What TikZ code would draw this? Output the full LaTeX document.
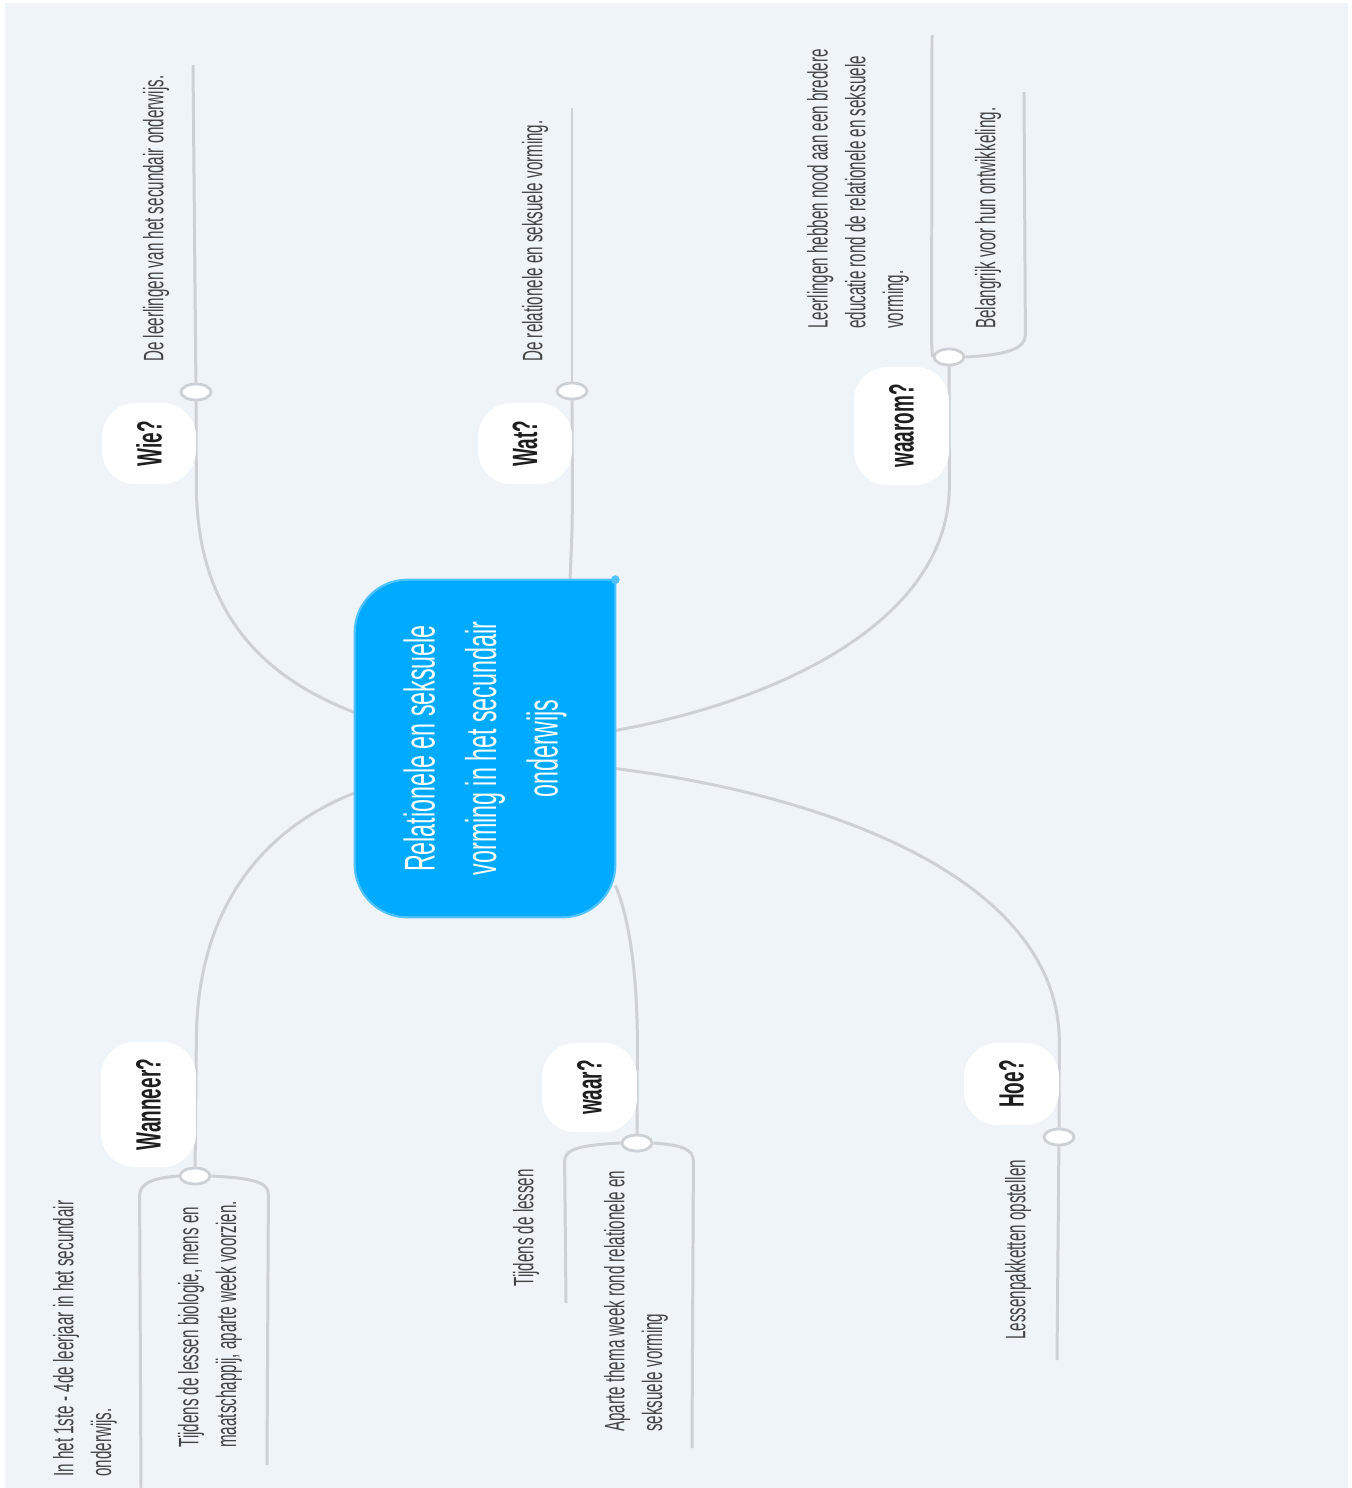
\documentclass[tikz,border=0pt]{standalone}
\usepackage{fontspec}
\usepackage{xcolor}
\usetikzlibrary{shapes.geometric, calc, backgrounds}
\newfontfamily\mapfont{Liberation Sans}[FakeStretch=0.54]
\definecolor{pagebg}{RGB}{239,244,248}
\definecolor{linkgray}{RGB}{205,209,213}
\definecolor{topicblue}{RGB}{0,170,255}
\definecolor{topicedge}{RGB}{80,195,255}
\definecolor{leafink}{RGB}{68,68,68}
\definecolor{labelink}{RGB}{30,30,30}
\newcommand{\leaffont}{\mapfont\fontsize{16}{21.5}\selectfont}
\newcommand{\branchfont}{\mapfont\bfseries\fontsize{20}{24}\selectfont}
\newcommand{\topicfont}{\mapfont\fontsize{24.5}{35}\selectfont}
\tikzset{
  topic/.style={
    rectangle, minimum width=5.2cm, minimum height=6.74cm, inner sep=0pt,
    text=white, font=\topicfont
  },
  branch/.style={
    rectangle, rounded corners=19pt, fill=white, inner sep=0pt,
    text=labelink, font=\branchfont
  },
  knob/.style={
    ellipse, minimum width=0.6cm, minimum height=0.32cm, inner sep=0pt,
    fill=white, draw=linkgray, line width=1.6pt
  },
  leaf/.style={
    rotate=90, anchor=west, align=left, inner sep=0pt,
    text=leafink, font=\leaffont
  },
  link/.style={draw=linkgray, line width=1.7pt}
}

\begin{document}
\begin{tikzpicture}[x=0.02cm, y=-0.02cm]
  \useasboundingbox (0,0) rectangle (1352,1488);

  % central topic
  \node[topic] (ctr) at (485,748.5)
    {\rotatebox{90}{\parbox{6cm}{\centering Relationele en seksuele\\vorming in het secundair\\onderwijs}}};

  % branches
  \node[branch, minimum width=1.88cm, minimum height=1.62cm] (wie)     at (149,443.5)  {\rotatebox{90}{Wie?}};
  \node[branch, minimum width=1.88cm, minimum height=1.62cm] (wat)     at (525,443.5)  {\rotatebox{90}{Wat?}};
  \node[branch, minimum width=1.9cm,  minimum height=2.36cm] (waarom)  at (901.5,426)  {\rotatebox{90}{waarom?}};
  \node[branch, minimum width=1.9cm,  minimum height=2.5cm]  (wanneer) at (148.5,1104.5) {\rotatebox{90}{Wanneer?}};
  \node[branch, minimum width=1.9cm,  minimum height=1.78cm] (waar)    at (589.5,1087.5) {\rotatebox{90}{waar?}};
  \node[branch, minimum width=1.9cm,  minimum height=1.64cm] (hoe)     at (1011.5,1084) {\rotatebox{90}{Hoe?}};

  % knobs
  \node[knob] (wieknob)     at (196,392)   {};
  \node[knob] (watknob)     at (572,391)   {};
  \node[knob] (waaromknob)  at (949,357)   {};
  \node[knob] (wanneerknob) at (195,1176)  {};
  \node[knob] (waarknob)    at (637,1143)  {};
  \node[knob] (hoeknob)     at (1059,1137) {};

  % leaves
  \node[leaf] (wieleaf)      at (156,362)  {De leerlingen van het secundair onderwijs.};
  \node[leaf] (watleaf)      at (535,362)  {De relationele en seksuele vorming.};
  \node[leaf] (waaromleafa)  at (858,329)  {Leerlingen hebben nood aan een bredere\\educatie rond de relationele en seksuele\\vorming.};
  \node[leaf] (waaromleafb)  at (988,329)  {Belangrijk voor hun ontwikkeling.};
  \node[leaf] (wanneerleafa) at (85,1477)  {In het 1ste - 4de leerjaar in het secundair\\onderwijs.};
  \node[leaf] (wanneerleafb) at (210,1448) {Tijdens de lessen biologie, mens en\\maatschappij, aparte week voorzien.};
  \node[leaf] (waarleafa)    at (526,1287) {Tijdens de lessen};
  \node[leaf] (waarleafb)    at (636,1432) {Aparte thema week rond relationele en\\seksuele vorming};
  \node[leaf] (hoeleaf)      at (1018,1340) {Lessenpakketten opstellen};

  % leaf line ends
  \coordinate (wieend)      at (193,65);
  \coordinate (watend)      at (572,108);
  \coordinate (waaromenda)  at (932,35);
  \coordinate (waaromendb)  at (1024,92);
  \coordinate (wanneerenda) at (141,1488);
  \coordinate (wanneerendb) at (267,1465);
  \coordinate (waarenda)    at (566,1303);
  \coordinate (waarendb)    at (692,1448);
  \coordinate (hoeend)      at (1057,1360);

  \begin{scope}[on background layer]
    \fill[white] (0,0) rectangle (1352,1488);
    \fill[pagebg] (5,3) rectangle (1348,1488);

    % topic to branches
    \draw[link] ($(ctr.west)+(0,-36)$) .. controls +(-83,-32) and +(0,136) .. (wie.south east) -- (wieknob);
    \draw[link] ($(ctr.north)+(85,0)$) .. controls +(2,-45) and +(0,45) .. (wat.south east) -- (watknob);
    \draw[link] ($(ctr.east)+(0,-18)$) .. controls +(165,-30) and +(0,135) .. (waarom.south east) -- (waaromknob);
    \draw[link] ($(ctr.east)+(0,20)$) .. controls +(215,27) and +(0,-163) .. (hoe.north east) -- (hoeknob);
    \draw[link] ($(ctr.south east)+(0,-32)$) .. controls +(15,35) and +(0,-63) .. (waar.north east) -- (waarknob);
    \draw[link] ($(ctr.west)+(0,44.5)$) .. controls +(-83,32) and +(0,-142) .. (wanneer.north east) -- (wanneerknob);

    % knobs to leaves
    \draw[link] (wieknob) -- (wieend);
    \draw[link] (watknob) -- (watend);
    \draw[link] (hoeknob) -- (hoeend);
    \draw[link] (waaromknob.west) to[out=95, in=-90] ++(-1,-17) -- (waaromenda);
    \draw[link] (waaromknob.east) .. controls +(40,-2) and +(0,14) .. ++(60,-22) -- (waaromendb);
    \draw[link] (wanneerknob.west) .. controls +(-28,2) and +(0,-12) .. ++(-39,20) -- (wanneerenda);
    \draw[link] (wanneerknob.east) .. controls +(40,2) and +(0,-12) .. ++(57,18) -- (wanneerendb);
    \draw[link] (waarknob.west) .. controls +(-40,2) and +(0,-12) .. ++(-56,18) -- (waarenda);
    \draw[link] (waarknob.east) .. controls +(28,2) and +(0,-12) .. ++(40,18) -- (waarendb);

    % topic shape
    \filldraw[fill=topicblue, draw=topicedge, line width=1.2pt, rounded corners=30pt]
      (ctr.north east) -- (ctr.south east) -- (ctr.south west) -- (ctr.north west) -- (ctr.north east);
    \fill[topicedge] (ctr.north east) circle[radius=2.5pt];
  \end{scope}
\end{tikzpicture}
\end{document}
